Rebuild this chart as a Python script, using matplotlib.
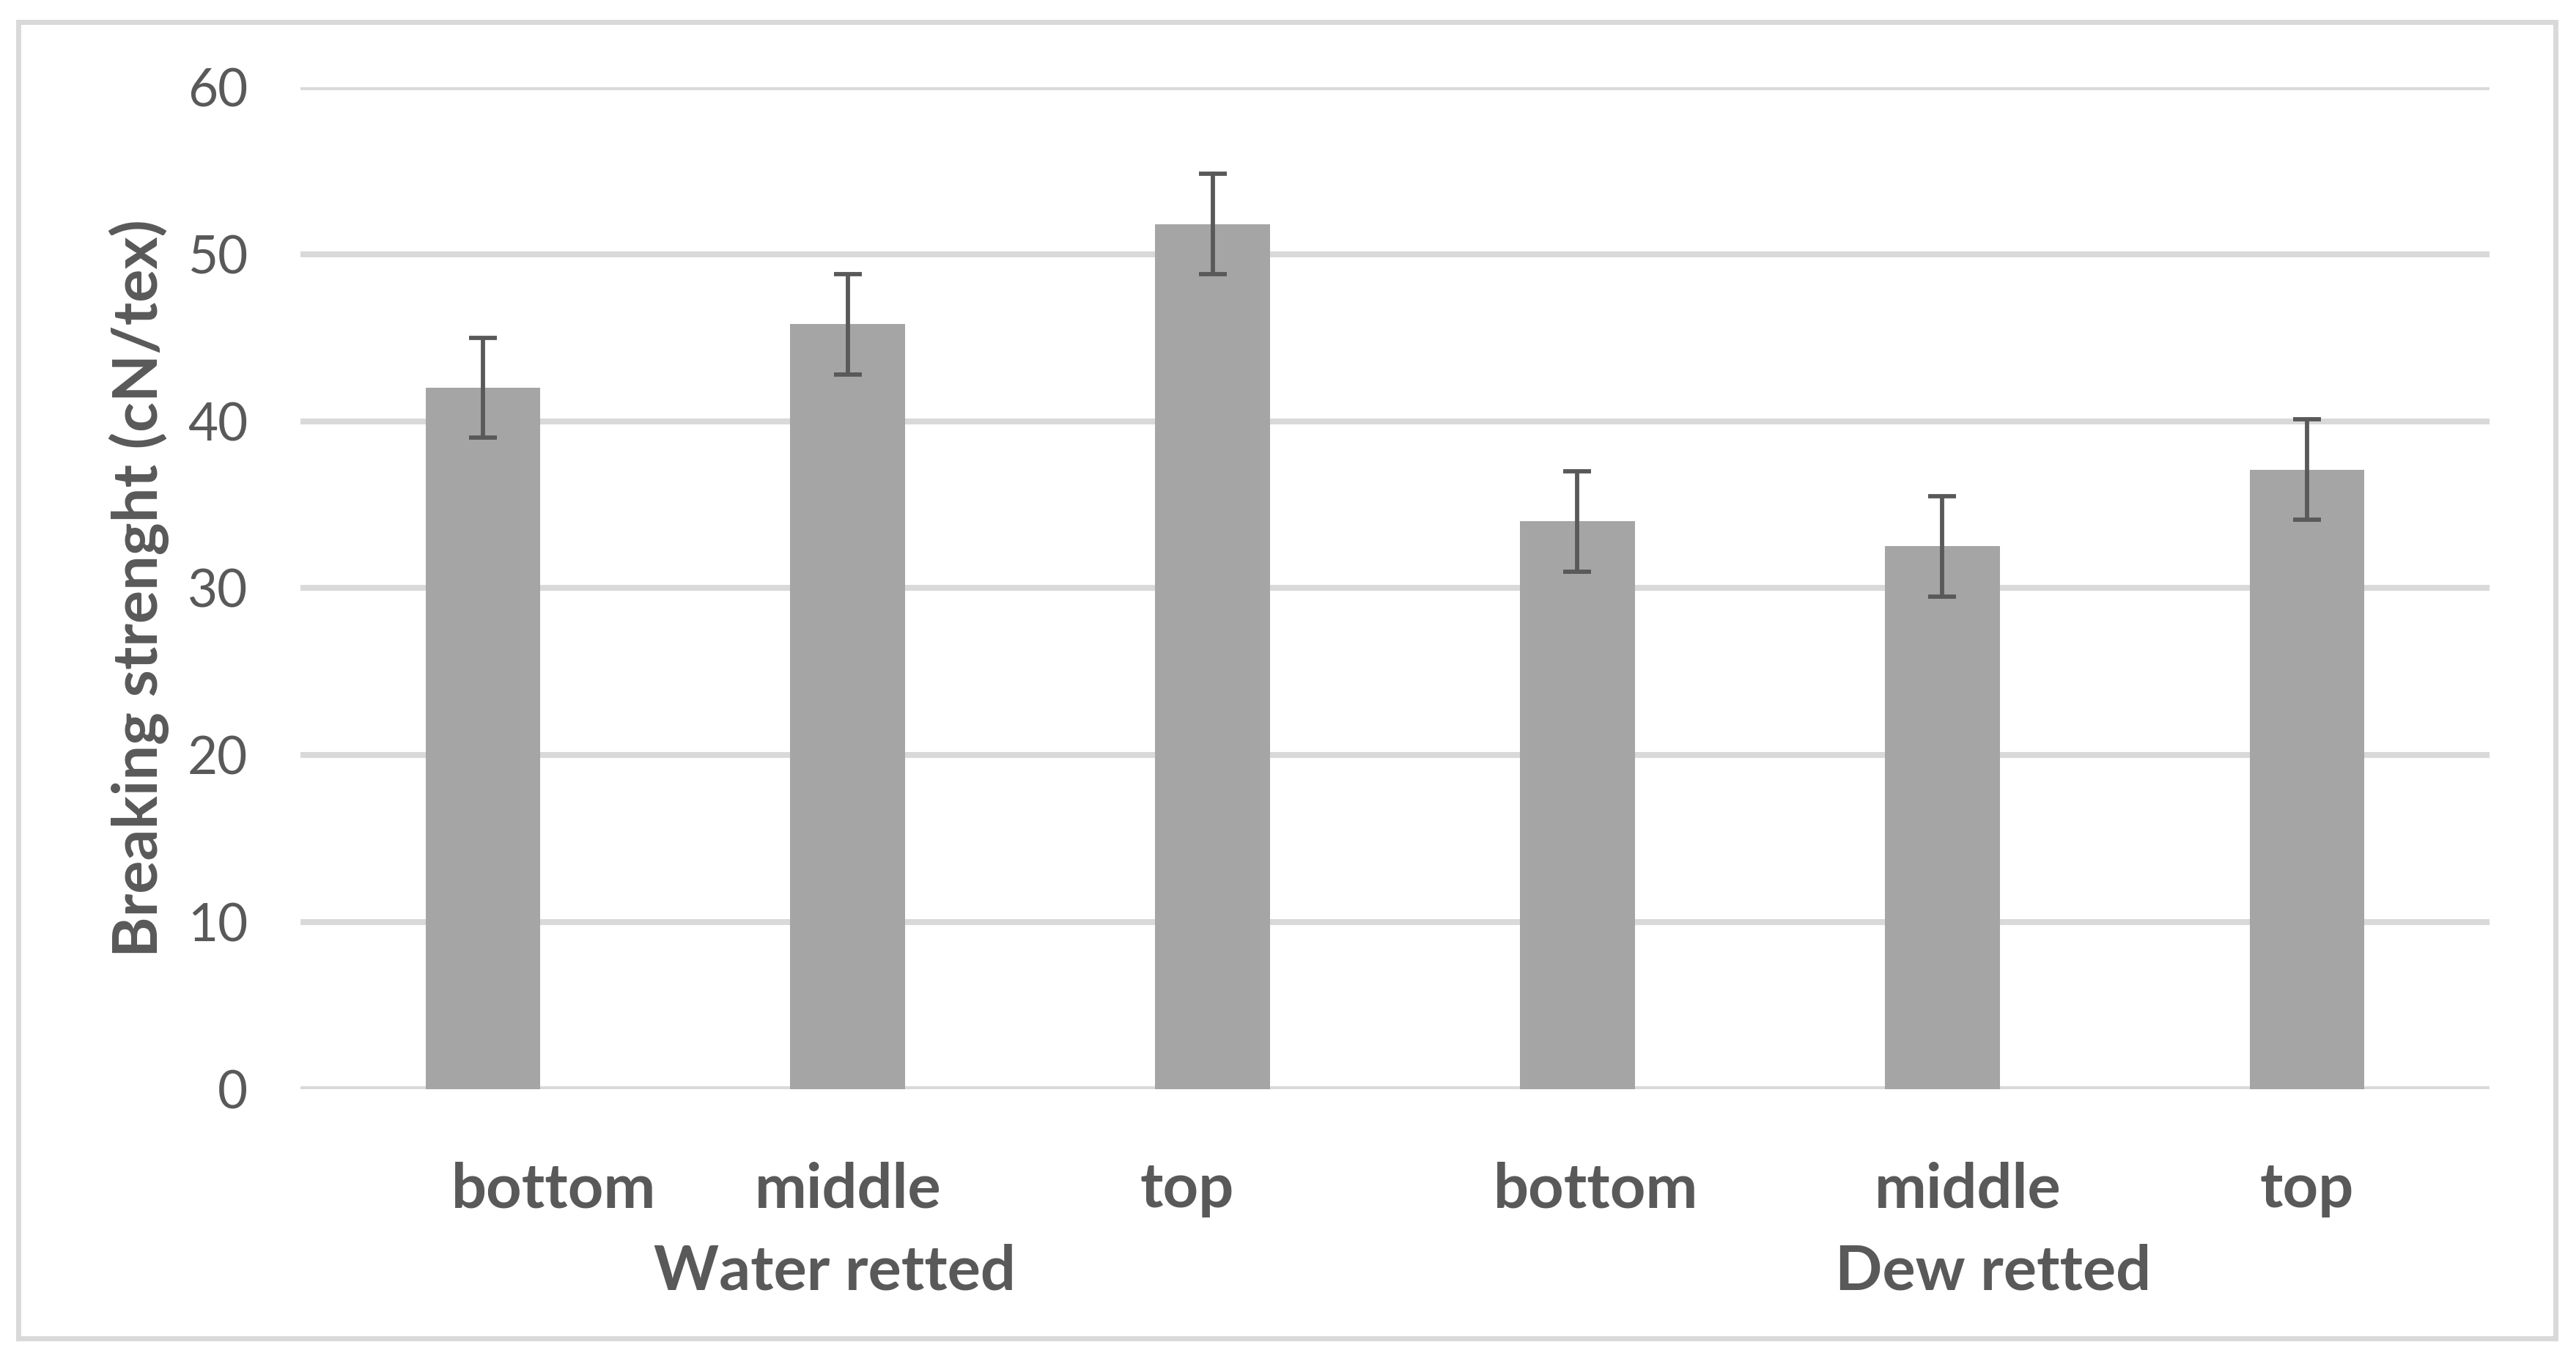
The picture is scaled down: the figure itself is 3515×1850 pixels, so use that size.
import matplotlib
matplotlib.use("Agg")
from matplotlib import pyplot as plt
from matplotlib.patches import Rectangle
import numpy

plt.rcParams['font.family'] = ['Lato', 'DejaVu Sans']

positions = ["bottom", "middle", "top", "bottom", "middle", "top"]
groups = ["Water retted", "Dew retted"]
strength = [42.0, 45.8, 51.8, 34.0, 32.5, 37.1]
errors = [3.0, 3.0, 3.0, 3.0, 3.0, 3.0]
yticks = [0, 10, 20, 30, 40, 50, 60]

grey = '#595959'
x = numpy.arange(len(strength))

fig = plt.figure(figsize=(35.15, 18.5), dpi=100)
ax = fig.add_axes([0.1167, 0.1968, 0.8497, 0.7389])

ax.bar(x, strength, width=0.315, color='#a5a5a5', zorder=2)
ax.errorbar(x, strength, yerr=errors, fmt='none', ecolor=grey,
            elinewidth=4.2, capsize=14, capthick=4.2, zorder=3)

ax.set_xlim(-0.5, 5.5)
ax.set_ylim(0, 60)
ax.set_yticks(yticks)
ax.set_yticklabels([str(t) for t in yticks], fontsize=51, color=grey)
ax.tick_params(axis='y', length=0, pad=52)
ax.set_xticks([])
ax.grid(axis='y', color='#d9d9d9', linewidth=5.8, zorder=0)
for s in ax.spines.values():
    s.set_visible(False)

ax.set_ylabel('Breaking strenght (cN/tex)', fontsize=61, fontweight='bold',
              color=grey, labelpad=18)

# excel-style multi level category labels
lab_x = [0.194, 1.0, 1.93, 3.05, 4.07, 5.0]
for xi, lab in zip(lab_x, positions):
    ax.text(xi, -0.1, lab, transform=ax.get_xaxis_transform(), ha='center',
            va='center', fontsize=61, fontweight='bold', color=grey)
grp_x = [0.964, 4.14]
for xi, lab in zip(grp_x, groups):
    ax.text(xi, -0.182, lab, transform=ax.get_xaxis_transform(), ha='center',
            va='center', fontsize=61, fontweight='bold', color=grey)

fig.patches.append(Rectangle((0.007, 0.013), 0.985, 0.971, transform=fig.transFigure,
                             fill=False, edgecolor='#d9d9d9', linewidth=5))

fig.savefig('out.png', dpi=100)
